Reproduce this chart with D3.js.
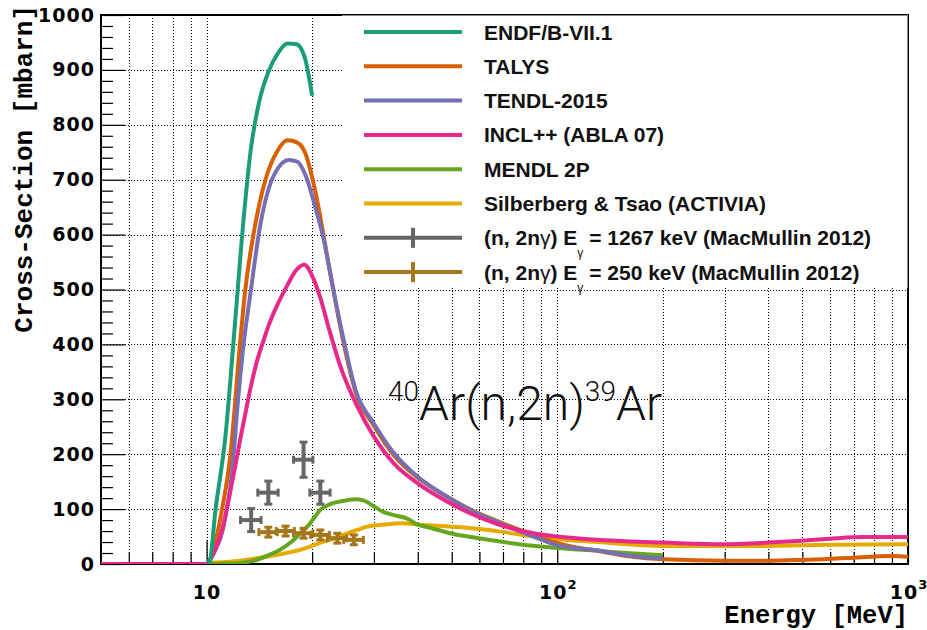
<!DOCTYPE html>
<html>
<head>
<meta charset="utf-8">
<script src="https://cdn.jsdelivr.net/npm/d3@7"></script>
<style>
  html, body { margin: 0; padding: 0; background: #fff; }
  svg { display: block; }
</style>
</head>
<body>
<svg id="chart" width="927" height="630"></svg>
<script>
// 40Ar(n,2n)39Ar cross-section: energies in MeV, cross sections in mbarn

const endfE  = [10, 10.2, 10.6, 11.3, 12.0, 12.8, 13.4, 14.1, 15.0, 16.0, 17.0, 18.0, 19.0, 20.0];
const endfXs = [0, 4, 98, 228, 424, 640, 760, 840, 896, 931, 948, 947, 925, 853];

const talysE  = [5, 10, 10.5, 11, 11.7, 12.45, 12.9, 13.8, 14.8, 15.9, 17, 18.1, 19.1, 20.4, 22.3, 24.6, 26.6, 30, 34.2, 40, 47.5, 56.6, 68.8, 85.6, 100, 130, 160, 200, 300, 400, 500, 670, 900, 1000];
const talysXs = [0, 0, 30, 90, 200, 400, 500, 622, 705, 752, 772, 768, 749, 680, 545, 402, 313, 252, 198, 157, 126, 99, 76, 53, 38, 24, 14, 8.5, 6, 6, 7.5, 11, 14.5, 13];

const tendlE  = [10, 10.5, 11.16, 11.83, 12.3, 12.75, 13.35, 14.25, 15.04, 16.06, 17.16, 18.13, 19.1, 20.4, 21.6, 23, 24.6, 26.6, 30, 34.2, 40, 47.5, 56.6, 68.8, 85.6, 100, 130, 161, 200];
const tendlXs = [0, 20, 66, 170, 300, 400, 495, 620, 684, 723, 736, 733, 710, 651, 590, 499, 408, 317, 256, 202, 159, 126, 98, 74, 50, 34, 25, 15, 10];

const inclE  = [5, 10, 10.5, 11, 11.5, 12, 12.5, 13, 13.5, 14, 14.5, 15.04, 16, 17, 18.05, 19, 20, 21.1, 22.3, 24.1, 26.9, 30, 34.2, 40, 47.5, 56.6, 68.8, 85.6, 100, 130, 161, 200, 297, 400, 482, 597, 745, 1000];
const inclXs = [0, 0, 22, 55, 110, 170, 230, 285, 335, 375, 405, 435, 475, 508, 536, 545, 525, 485, 430, 359, 287, 232, 183, 147, 117, 92, 71, 56, 50, 44, 41, 39, 36, 39, 42, 46, 49, 49];

const mendlE  = [10, 11, 12.5, 14, 15, 16.2, 17.5, 18.5, 19.5, 20.2, 21.2, 22.5, 24.1, 26.6, 28, 29.5, 31.9, 34.2, 37.2, 39.9, 43.4, 49.5, 61, 76, 100, 130, 161, 200];
const mendlXs = [0, 0.5, 2, 8, 16, 26, 41, 56, 70, 83, 100, 109, 114, 118, 116, 108, 95, 89, 83, 72, 66, 56, 46, 37, 29, 24, 19.5, 16];

const activiaE  = [10, 12, 14, 16, 17.5, 19, 21.6, 23, 25, 26.9, 28.7, 31, 33.5, 36, 41.6, 44.3, 55.3, 68.8, 85.6, 100, 130, 200, 386, 600, 1000];
const activiaXs = [2, 5, 11, 17, 22, 28, 41, 46, 55, 62, 68, 71, 73, 74, 71, 70, 66, 59, 50, 45, 40, 33, 33, 35, 36];

// MacMullin 2012, (n,2n gamma) partial cross sections
const gamma1267E    = [13.4, 15.0, 18.9, 21.1];
const gamma1267Xs   = [80, 130, 190, 130];
const gamma1267XErr = [0.9, 1.0, 1.2, 1.4];
const gamma1267YErr = [21, 21, 32, 21];

const gamma250E    = [15.0, 16.8, 18.9, 21.1, 23.6, 26.3];
const gamma250Xs   = [58, 60, 56, 53, 47, 44];
const gamma250XErr = [0.9, 1.0, 1.2, 1.3, 1.5, 1.7];
const gamma250YErr = [9, 9, 9, 9, 9, 9];

const seriesNames  = ["ENDF/B-VII.1", "TALYS", "TENDL-2015", "INCL++ (ABLA 07)", "MENDL 2P", "Silberberg & Tsao (ACTIVIA)"];
const seriesColors = ["#1b9e77", "#d95f02", "#7570b3", "#e7298a", "#66a61e", "#e6ab02"];
const pointColors  = ["#666666", "#a6761d"];
const pointGammaE  = ["1267", "250"];

const yMajorTicks = [0, 100, 200, 300, 400, 500, 600, 700, 800, 900, 1000];
const xMajorTicks = [10, 100, 1000];
const xMinorTicks = [6, 7, 8, 9, 20, 30, 40, 50, 60, 70, 80, 90, 200, 300, 400, 500, 600, 700, 800, 900];

const plot = { left: 101, right: 908, top: 15, bottom: 564 };
const x = d3.scaleLog().domain([5, 1000]).range([plot.left, plot.right]);
const y = d3.scaleLinear().domain([0, 1000]).range([plot.bottom, plot.top]);

const svg = d3.select("#chart");
const TICK_FONT = "'DejaVu Sans', sans-serif";
const TITLE_FONT = "'Liberation Mono', 'DejaVu Sans Mono', monospace";
const LEGEND_FONT = "'Liberation Sans', Arial, sans-serif";

// dotted grid at every tick
const grid = svg.append("g").attr("stroke", "#000").attr("stroke-width", 1).attr("stroke-dasharray", "1,2");
grid.selectAll("line.vx").data(xMajorTicks.concat(xMinorTicks).filter(d => d < 1000)).join("line")
  .attr("x1", d => Math.round(x(d)) + 0.5).attr("x2", d => Math.round(x(d)) + 0.5)
  .attr("y1", plot.top).attr("y2", plot.bottom);
grid.selectAll("line.hy").data(yMajorTicks.filter(d => d > 0 && d < 1000)).join("line")
  .attr("x1", plot.left).attr("x2", plot.right)
  .attr("y1", d => Math.round(y(d)) + 0.5).attr("y2", d => Math.round(y(d)) + 0.5);

// axes: ticks drawn inward
const yMinor = d3.range(0, 1001, 20).filter(d => d % 100 !== 0);
svg.append("g").attr("transform", `translate(${plot.left},0)`)
  .call(d3.axisLeft(y).tickValues(yMinor).tickSize(-12).tickSizeOuter(0).tickFormat(""))
  .call(g => g.select(".domain").remove())
  .call(g => g.selectAll("line").attr("stroke-width", 1.2));
svg.append("g").attr("transform", `translate(${plot.left},0)`)
  .call(d3.axisLeft(y).tickValues(yMajorTicks).tickSize(-24).tickSizeOuter(0).tickPadding(6).tickFormat(d3.format("d")))
  .call(g => g.select(".domain").remove())
  .call(g => g.selectAll("line").attr("stroke-width", 1.2))
  .call(g => g.selectAll("text").attr("font-family", TICK_FONT).attr("font-weight", "bold")
      .attr("font-size", 19).attr("letter-spacing", 1).attr("fill", "#000"));

svg.append("g").attr("transform", `translate(0,${plot.bottom})`)
  .call(d3.axisBottom(x).tickValues(xMinorTicks).tickSize(-12).tickSizeOuter(0).tickFormat(""))
  .call(g => g.select(".domain").remove())
  .call(g => g.selectAll("line").attr("stroke-width", 1.2));
const xAxisMajor = svg.append("g").attr("transform", `translate(0,${plot.bottom})`)
  .call(d3.axisBottom(x).tickValues(xMajorTicks).tickSize(-24).tickSizeOuter(0).tickPadding(22).tickFormat(""))
  .call(g => g.select(".domain").remove())
  .call(g => g.selectAll("line").attr("stroke-width", 1.2));
xAxisMajor.selectAll(".tick text").each(function (d) {
  const t = d3.select(this).attr("font-family", TICK_FONT).attr("font-weight", "bold")
    .attr("font-size", 19).attr("fill", "#000").attr("letter-spacing", 1).attr("dy", "0.71em");
  const p = Math.round(Math.log10(d));
  t.append("tspan").text("10");
  if (p > 1) t.append("tspan").attr("font-size", 13).attr("dy", "-0.8em").attr("letter-spacing", 0).text(String(p));
});

// frame
svg.append("rect").attr("x", plot.left).attr("y", plot.top)
  .attr("width", plot.right - plot.left).attr("height", plot.bottom - plot.top)
  .attr("fill", "none").attr("stroke", "#000").attr("stroke-width", 2);

// curves
const curves = [
  [endfE, endfXs], [talysE, talysXs], [tendlE, tendlXs],
  [inclE, inclXs], [mendlE, mendlXs], [activiaE, activiaXs]
];
svg.append("clipPath").attr("id", "plotClip").append("rect")
  .attr("x", plot.left).attr("y", plot.top).attr("width", plot.right - plot.left).attr("height", plot.bottom - plot.top);
const line = d3.line().x(d => x(d[0])).y(d => y(d[1])).curve(d3.curveMonotoneX);
const drawOrder = [5, 4, 1, 2, 3, 0];
const curveG = svg.append("g").attr("clip-path", "url(#plotClip)");
drawOrder.forEach(i => {
  const [es, vs] = curves[i];
  curveG.append("path").datum(es.map((e, k) => [e, vs[k]]))
    .attr("d", line).attr("fill", "none").attr("stroke", seriesColors[i])
    .attr("stroke-width", 4).attr("stroke-linejoin", "round").attr("stroke-linecap", "butt");
});

// error-bar points
function drawPoints(es, vs, xe, ye, color) {
  const g = svg.append("g").attr("stroke", color).attr("stroke-width", 4).attr("fill", "none");
  const cap = 4;
  es.forEach((e, k) => {
    const cx = x(e), cy = y(vs[k]);
    const xl = x(e - xe[k]), xr = x(e + xe[k]);
    const yt = y(vs[k] + ye[k]), yb = y(vs[k] - ye[k]);
    g.append("line").attr("x1", xl).attr("x2", xr).attr("y1", cy).attr("y2", cy);
    g.append("line").attr("x1", cx).attr("x2", cx).attr("y1", yt).attr("y2", yb);
    g.append("line").attr("x1", xl).attr("x2", xl).attr("y1", cy - cap).attr("y2", cy + cap).attr("stroke-width", 3);
    g.append("line").attr("x1", xr).attr("x2", xr).attr("y1", cy - cap).attr("y2", cy + cap).attr("stroke-width", 3);
    g.append("line").attr("x1", cx - cap).attr("x2", cx + cap).attr("y1", yt).attr("y2", yt).attr("stroke-width", 3);
    g.append("line").attr("x1", cx - cap).attr("x2", cx + cap).attr("y1", yb).attr("y2", yb).attr("stroke-width", 3);
  });
}
drawPoints(gamma1267E, gamma1267Xs, gamma1267XErr, gamma1267YErr, pointColors[0]);
drawPoints(gamma250E, gamma250Xs, gamma250XErr, gamma250YErr, pointColors[1]);

// reaction label
const reaction = svg.append("text").attr("x", 388).attr("y", 420)
  .attr("font-family", "Roboto, Lato, Inter, sans-serif").attr("font-weight", 300)
  .attr("font-size", 48).attr("fill", "#111");
reaction.append("tspan").attr("font-size", 28).attr("dy", -19).text("40");
reaction.append("tspan").attr("dy", 19).text("Ar(n,2n)");
reaction.append("tspan").attr("font-size", 28).attr("dy", -19).text("39");
reaction.append("tspan").attr("dy", 19).text("Ar");

// legend
const legend = svg.append("g");
legend.append("rect").attr("x", 342).attr("y", plot.top).attr("width", plot.right - 342).attr("height", 273)
  .attr("fill", "#fff");
legend.append("path").attr("d", `M342,${plot.top + 0.5}H${plot.right - 0.5}V${plot.top + 273}`)
  .attr("fill", "none").attr("stroke", "#888").attr("stroke-width", 1);
const rowY = i => 32 + i * 34.3;
seriesNames.forEach((name, i) => {
  legend.append("line").attr("x1", 364).attr("x2", 462).attr("y1", rowY(i)).attr("y2", rowY(i))
    .attr("stroke", seriesColors[i]).attr("stroke-width", 4);
  legend.append("text").attr("x", 484).attr("y", rowY(i)).attr("dy", "0.36em")
    .attr("font-family", LEGEND_FONT).attr("font-weight", "bold").attr("font-size", 21)
    .attr("fill", "#111").text(name);
});
pointGammaE.forEach((eg, j) => {
  const ry = rowY(6 + j);
  legend.append("line").attr("x1", 364).attr("x2", 462).attr("y1", ry).attr("y2", ry)
    .attr("stroke", pointColors[j]).attr("stroke-width", 4);
  legend.append("line").attr("x1", 413).attr("x2", 413).attr("y1", ry - 10).attr("y2", ry + 10)
    .attr("stroke", pointColors[j]).attr("stroke-width", 4);
  const t = legend.append("text").attr("x", 484).attr("y", ry).attr("dy", "0.36em")
    .attr("font-family", LEGEND_FONT).attr("font-weight", "bold").attr("font-size", 21).attr("fill", "#111");
  t.append("tspan").text("(n, 2n");
  t.append("tspan").attr("font-weight", "normal").text("γ");
  t.append("tspan").text(") E");
  t.append("tspan").attr("font-weight", "normal").attr("font-size", 12).attr("dy", 12).text("γ");
  t.append("tspan").attr("dy", -12).text(` = ${eg} keV (MacMullin 2012)`);
});

// axis titles
svg.append("text").attr("x", plot.right).attr("y", 623).attr("text-anchor", "end")
  .attr("font-family", TITLE_FONT).attr("font-weight", "bold").attr("font-size", 25.5).attr("fill", "#000")
  .text("Energy [MeV]");
svg.append("text").attr("transform", "translate(32,5) rotate(-90)").attr("text-anchor", "end")
  .attr("font-family", TITLE_FONT).attr("font-weight", "bold").attr("font-size", 26).attr("fill", "#000")
  .text("Cross-Section [mbarn]");
</script>
</body>
</html>
